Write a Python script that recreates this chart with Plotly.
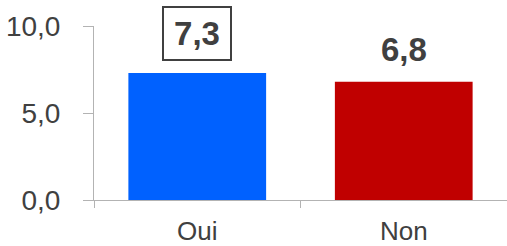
import plotly.graph_objects as go

categories = ["Oui", "Non"]
values = [7.3, 6.8]
labels = ["7,3", "6,8"]
colors = ["#0061FF", "#C00000"]

FONT = "Liberation Sans, Arial"

fig = go.Figure()
fig.add_trace(go.Bar(x=categories, y=values, marker_color=colors, width=0.667,
                     marker_line_width=0, hoverinfo="skip"))

for i, (c, v, t) in enumerate(zip(categories, values, labels)):
    boxed = (i == 0)
    if boxed:
        fig.add_annotation(x=c, y=v, text="<b>%s</b>" % t, showarrow=False,
                           yanchor="bottom", yshift=12,
                           font=dict(family=FONT, size=33, color="#404040"),
                           bordercolor="#404040", borderwidth=2, borderpad=7,
                           width=52, height=37, valign="bottom", bgcolor="white")
    else:
        fig.add_annotation(x=c, y=v, text="<b>%s</b>" % t, showarrow=False,
                           yanchor="bottom", yshift=12,
                           font=dict(family=FONT, size=33, color="#404040"))

fig.update_layout(
    width=507, height=246,
    margin=dict(l=94, r=0, t=26, b=46),
    plot_bgcolor="white", paper_bgcolor="white",
    showlegend=False,
    font=dict(family=FONT, color="#404040"),
    bargap=0.333,
)
fig.update_yaxes(range=[0, 10], tickvals=[0, 5, 10], ticktext=["0,0", "5,0", "10,0"],
                 showgrid=False, zeroline=False, showline=True, linecolor="#B3B3B3", linewidth=1,
                 ticks="outside", ticklen=10, tickcolor="#B3B3B3",
                 tickfont=dict(family=FONT, size=28, color="#404040"),
                 ticklabelstandoff=17, automargin=False)
fig.update_xaxes(showgrid=False, showline=True, linecolor="#B3B3B3", linewidth=1,
                 ticks="outside", tickson="boundaries", ticklen=7, tickcolor="#B3B3B3",
                 tickfont=dict(family=FONT, size=26, color="#404040"),
                 ticklabelstandoff=8, automargin=False)

fig.write_html("out.html", config={"displayModeBar": False},
               post_script="document.body.style.margin='0';")
